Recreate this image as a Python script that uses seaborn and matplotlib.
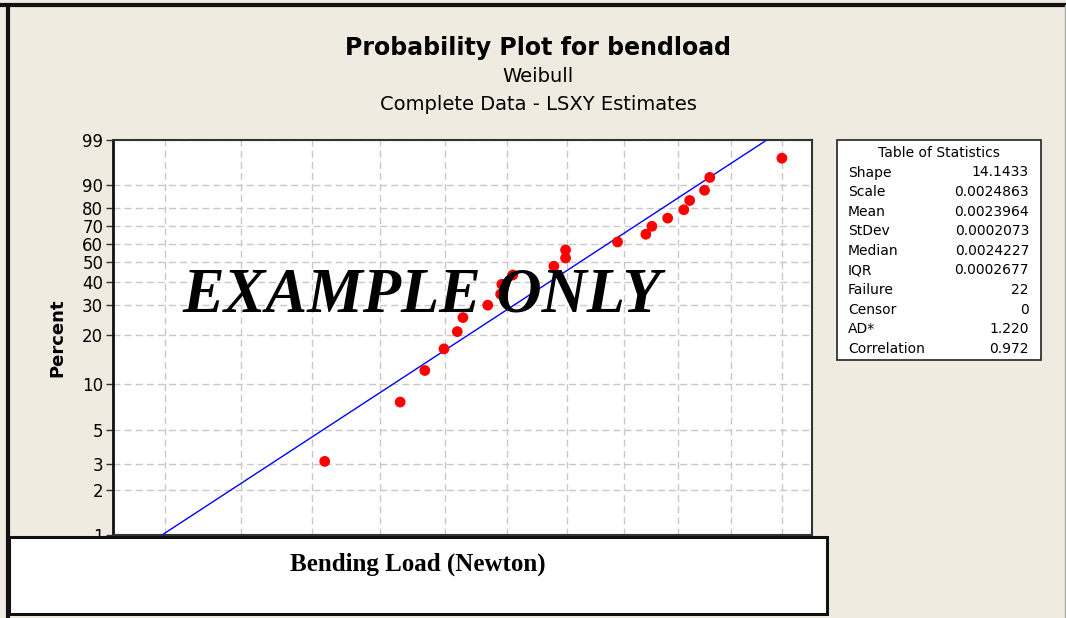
import numpy as np
import pandas as pd
import matplotlib
matplotlib.use("Agg")
import matplotlib.pyplot as plt
import seaborn as sns
from matplotlib.patches import Rectangle
from matplotlib.lines import Line2D
from matplotlib.ticker import NullLocator, FixedLocator

# data
load = [0.002018, 0.002130, 0.002168, 0.002198, 0.002219, 0.002228, 0.002268,
        0.002289, 0.002291, 0.002309, 0.002378, 0.002398, 0.002398, 0.002489,
        0.002540, 0.002551, 0.002580, 0.002610, 0.002621, 0.002649, 0.002659,
        0.002800]
percent = [3.1, 7.6, 12.1, 16.5, 21.0, 25.4, 29.9, 34.4, 38.8, 43.3, 47.8,
           52.2, 56.7, 61.2, 65.6, 70.1, 74.6, 79.0, 83.5, 87.9, 92.4, 96.9]

shape = 14.1433
scale = 0.0024863

stat_names = ["Shape", "Scale", "Mean", "StDev", "Median", "IQR",
              "Failure", "Censor", "AD*", "Correlation"]
stat_values = ["14.1433", "0.0024863", "0.0023964", "0.0002073", "0.0024227",
               "0.0002677", "22", "0", "1.220", "0.972"]

y_ticks = [1, 2, 3, 5, 10, 20, 30, 40, 50, 60, 70, 80, 90, 99]
x_ticks = [0.0018, 0.0019, 0.0020, 0.0021, 0.0022, 0.0023, 0.0024,
           0.0025, 0.0026, 0.0027, 0.0028]

BG = "#EFEBE1"
W, H = 1066, 618


def weibull_fwd(p):
    p = np.clip(np.asarray(p, dtype=float), 1e-6, 100 - 1e-6)
    return np.log(-np.log(1 - p / 100.0))


def weibull_inv(v):
    return 100.0 * (1 - np.exp(-np.exp(np.asarray(v, dtype=float))))


sns.set_style("white")
plt.rcParams["font.family"] = ["DejaVu Sans"]
plt.rcParams.update({"text.color": "black", "axes.labelcolor": "black",
                     "xtick.color": "black", "ytick.color": "black"})

fig = plt.figure(figsize=(W / 100, H / 100), dpi=100, facecolor=BG)
ax = fig.add_axes([113 / W, (H - 535) / H, (812 - 113) / W, (535 - 140) / H])
ax.set_facecolor("white")

pts = pd.DataFrame({"load": load, "percent": percent})
line_pct = np.array(y_ticks, dtype=float)
fit = pd.DataFrame({"percent": line_pct,
                    "load": scale * (-np.log(1 - line_pct / 100)) ** (1 / shape)})

sns.lineplot(data=fit, x="load", y="percent", color="#0000FF", lw=1.0,
             sort=False, ax=ax, zorder=3)
sns.scatterplot(data=pts, x="load", y="percent", color="#FF0000", s=60,
                edgecolor="none", ax=ax, zorder=4)

ax.set_xscale("log")
ax.set_yscale("function", functions=(weibull_fwd, weibull_inv))
ax.set_xlim(0.001734, 0.002861)
ax.set_ylim(1, 99)

ax.xaxis.set_major_locator(FixedLocator(x_ticks))
ax.xaxis.set_minor_locator(NullLocator())
ax.set_xticklabels([""] * len(x_ticks))
ax.yaxis.set_major_locator(FixedLocator(y_ticks))
ax.yaxis.set_minor_locator(NullLocator())
ax.set_yticklabels([str(t) for t in y_ticks], fontsize=12)
ax.tick_params(axis="y", length=5, width=1, color="#333333", pad=2, left=True)
ax.tick_params(axis="x", length=0)

ax.grid(True, color="#C8C8C8", linestyle=(0, (5, 3)), lw=1)
ax.set_axisbelow(True)
for side, sp in ax.spines.items():
    sp.set_color("#333333")
    sp.set_linewidth(1.5)
ax.spines["left"].set_color("#111111")
ax.spines["left"].set_linewidth(2)

ax.set_xlabel("")
ax.set_ylabel("Percent", fontsize=13, fontweight="bold", labelpad=11)

# titles
fig.text(538 / W, 1 - 48 / H, "Probability Plot for bendload", ha="center",
         va="center", fontsize=17, fontweight="bold")
fig.text(538 / W, 1 - 76 / H, "Weibull", ha="center", va="center", fontsize=14)
fig.text(538 / W, 1 - 104 / H, "Complete Data - LSXY Estimates", ha="center",
         va="center", fontsize=14)

# watermark
fig.text(422 / W, 1 - 297 / H, "EXAMPLE ONLY", ha="center", va="center",
         fontsize=45, fontweight="bold", fontstyle="italic",
         family="Liberation Serif", zorder=10)

# statistics table
fig.add_artist(Rectangle((837 / W, 1 - 360 / H), (1041 - 837) / W, (360 - 140) / H,
                         transform=fig.transFigure, facecolor="white",
                         edgecolor="#222222", lw=1.2, zorder=5))
fig.text(939 / W, 1 - 153 / H, "Table of Statistics", ha="center", va="center",
         fontsize=10, zorder=6)
for i, (name, val) in enumerate(zip(stat_names, stat_values)):
    yy = 1 - (172.5 + i * 19.6) / H
    fig.text(848 / W, yy, name, ha="left", va="center", fontsize=10, zorder=6)
    fig.text(1029 / W, yy, val, ha="right", va="center", fontsize=10, zorder=6)

# x label box covering the axis bottom
fig.add_artist(Rectangle((9 / W, 1 - 614 / H), (827 - 9) / W, (614 - 537) / H,
                         transform=fig.transFigure, facecolor="white",
                         edgecolor="#111111", lw=2.2, zorder=7))
fig.text(418 / W, 1 - 564 / H, "Bending Load (Newton)", ha="center", va="center",
         fontsize=18, fontweight="bold", family="Liberation Serif", zorder=8)

# outer frame
fig.add_artist(Line2D([0, 1], [1 - 5 / H, 1 - 5 / H], transform=fig.transFigure,
                      color="#111111", lw=3, zorder=9))
fig.add_artist(Line2D([8 / W, 8 / W], [0, 1 - 5 / H], transform=fig.transFigure,
                      color="#111111", lw=3, zorder=9))
fig.add_artist(Line2D([1064.5 / W, 1064.5 / W], [0, 1 - 5 / H],
                      transform=fig.transFigure, color="#AAAAAA", lw=1, zorder=9))

fig.savefig("out.png", dpi=100, facecolor=BG)
